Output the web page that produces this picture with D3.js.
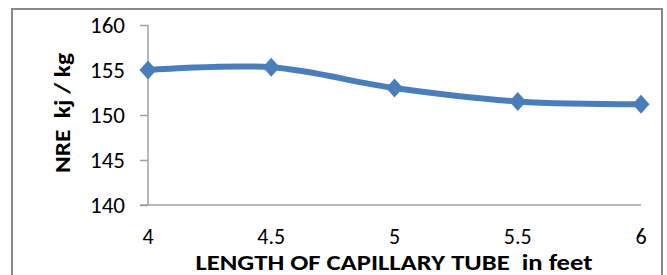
<!DOCTYPE html>
<html>
<head>
<meta charset="utf-8">
<script src="https://cdn.jsdelivr.net/npm/d3@7"></script>
<style>
  body { margin: 0; background: #fff; }
  text { font-family: Carlito, Calibri, Lato, "Liberation Sans", sans-serif; }
</style>
</head>
<body>
<div id="chart"></div>
<script>
var w = 667;
var h = 275;

// data
var lengths = [4, 4.5, 5, 5.5, 6];
var nre = [155.0, 155.3, 153.0, 151.5, 151.2];
var yTicks = [140, 145, 150, 155, 160];
var xTicks = [4, 4.5, 5, 5.5, 6];

var svg = d3.select("#chart")
            .append("svg")
            .attr("width", w)
            .attr("height", h);

// outer chart border (bottom edge falls outside the crop)
svg.append("path")
    .attr("d", "M12,280 L12,9 L662,9 L662,280")
    .attr("fill", "none")
    .attr("stroke", "#888")
    .attr("stroke-width", 2);

var xScale = d3.scaleLinear().domain([4, 6]).range([148, 641]);
var yScale = d3.scaleLinear().domain([140, 160]).range([205, 25]);

// y axis
var yAxis = d3.axisLeft(yScale).tickValues(yTicks).tickSize(8).tickPadding(15);
var gy = svg.append("g")
    .attr("transform", "translate(" + xScale(4) + ",0)")
    .call(yAxis);
gy.selectAll("path, line").attr("stroke", "#a0a0a0").attr("stroke-width", 1.5);
gy.select(".domain").attr("d", "M0," + yScale(160) + "V" + yScale(140));
gy.selectAll("text")
    .attr("font-size", 23)
    .attr("dy", "0.34em")
    .attr("fill", "#000")
    .style("font-family", "Carlito, Calibri, Lato, 'Liberation Sans', sans-serif");

// x axis (no tick marks, line runs from the tick stub to the last point)
svg.append("line")
    .attr("x1", xScale(4) - 8).attr("x2", xScale(6))
    .attr("y1", yScale(140)).attr("y2", yScale(140))
    .attr("stroke", "#a0a0a0").attr("stroke-width", 1.5);

svg.append("g")
    .selectAll("text")
    .data(xTicks)
    .enter()
    .append("text")
    .attr("x", (d) => xScale(d))
    .attr("y", 244)
    .attr("text-anchor", "middle")
    .attr("font-size", 22)
    .text((d) => d);

// smoothed series line
var points = lengths.map((d, i) => [xScale(d), yScale(nre[i])]);
svg.append("path")
    .attr("d", d3.line().curve(d3.curveCardinal.tension(0))(points))
    .attr("fill", "none")
    .attr("stroke", "#4a7ebb")
    .attr("stroke-width", 6);

// diamond markers
svg.selectAll(".dot")
    .data(points)
    .enter()
    .append("path")
    .attr("class", "dot")
    .attr("d", (d) => "M" + d[0] + "," + (d[1] - 9.5) + "L" + (d[0] + 8.5) + "," + d[1] +
                      "L" + d[0] + "," + (d[1] + 9.5) + "L" + (d[0] - 8.5) + "," + d[1] + "Z")
    .attr("fill", "#4a7ebb");

// axis titles
svg.append("text")
    .attr("transform", "translate(70,113) rotate(-90)")
    .attr("text-anchor", "middle")
    .attr("font-size", 23)
    .attr("font-weight", "bold")
    .attr("textLength", 120)
    .attr("lengthAdjust", "spacingAndGlyphs")
    .style("white-space", "pre")
    .text("NRE  kj / kg");

svg.append("text")
    .attr("x", 394)
    .attr("y", 270)
    .attr("text-anchor", "middle")
    .attr("font-size", 22)
    .attr("font-weight", "bold")
    .attr("textLength", 397)
    .attr("lengthAdjust", "spacingAndGlyphs")
    .style("white-space", "pre")
    .text("LENGTH OF CAPILLARY TUBE  in feet");
</script>
</body>
</html>
